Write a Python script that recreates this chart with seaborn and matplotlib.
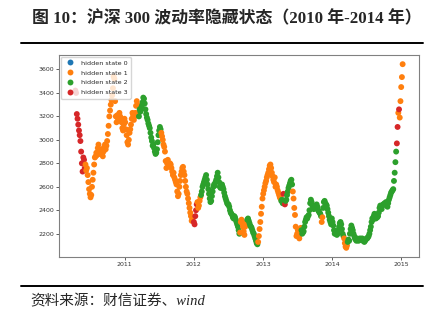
import matplotlib
matplotlib.use("Agg")
import matplotlib.pyplot as plt
import matplotlib.dates as mdates
from matplotlib.lines import Line2D
import seaborn as sns
import pandas as pd

# CSI 300 index level (about 8 readings per month, 2010-04-16 .. 2015-01-07)
values = [
    3420, 3400, 3220, 3180,                              # 2010-04 (second half)
    3130, 3080, 3040, 2990, 2900, 2800, 2730, 2850,      # 2010-05
    2830, 2760, 2790, 2740, 2760, 2700, 2640, 2580,      # 2010-06
    2540, 2510, 2530, 2600, 2660, 2720, 2790, 2850,      # 2010-07
    2860, 2890, 2870, 2930, 2960, 2900, 2880, 2910,      # 2010-08
    2920, 2880, 2860, 2900, 2940, 2960, 2920, 2950,      # 2010-09
    2990, 3050, 3120, 3200, 3250, 3300, 3340, 3380,      # 2010-10
    3440, 3540, 3520, 3330, 3200, 3150, 3210, 3180,      # 2010-11
    3180, 3230, 3200, 3170, 3150, 3100, 3080, 3130,      # 2010-12
    3180, 3150, 3090, 3040, 2980, 2960, 3000, 3060,      # 2011-01
    3090, 3130, 3180, 3230, 3210, 3170, 3200, 3230,      # 2011-02
    3290, 3330, 3300, 3230, 3200, 3260, 3240, 3270,      # 2011-03
    3290, 3320, 3360, 3350, 3310, 3260, 3220, 3190,      # 2011-04
    3170, 3140, 3120, 3100, 3060, 3020, 2990, 2950,      # 2011-05
    2960, 2930, 2900, 2880, 2890, 2920, 2980, 3040,      # 2011-06
    3080, 3110, 3090, 3060, 3030, 3000, 2960, 2940,      # 2011-07
    2900, 2820, 2760, 2800, 2830, 2790, 2780, 2800,      # 2011-08
    2790, 2760, 2730, 2700, 2720, 2680, 2660, 2640,      # 2011-09
    2620, 2560, 2520, 2540, 2600, 2650, 2700, 2730,      # 2011-10
    2760, 2770, 2730, 2700, 2650, 2600, 2560, 2540,      # 2011-11
    2500, 2460, 2420, 2380, 2350, 2310, 2330, 2340,      # 2011-12
    2300, 2280, 2350, 2400, 2450, 2470, 2420, 2440,      # 2012-01
    2480, 2510, 2530, 2560, 2600, 2620, 2640, 2660,      # 2012-02
    2680, 2700, 2660, 2620, 2580, 2540, 2500, 2470,      # 2012-03
    2480, 2520, 2560, 2600, 2620, 2610, 2640, 2660,      # 2012-04
    2690, 2720, 2680, 2640, 2600, 2590, 2610, 2620,      # 2012-05
    2600, 2580, 2550, 2520, 2500, 2480, 2460, 2450,      # 2012-06
    2450, 2430, 2400, 2380, 2370, 2360, 2340, 2330,      # 2012-07
    2350, 2340, 2320, 2300, 2280, 2260, 2230, 2200,      # 2012-08
    2210, 2300, 2320, 2290, 2260, 2220, 2190, 2260,      # 2012-09
    2280, 2300, 2320, 2330, 2310, 2290, 2270, 2260,      # 2012-10
    2250, 2230, 2210, 2200, 2180, 2160, 2140, 2120,      # 2012-11
    2110, 2130, 2180, 2240, 2300, 2370, 2430, 2500,      # 2012-12
    2540, 2570, 2600, 2630, 2650, 2680, 2700, 2720,      # 2013-01
    2750, 2780, 2790, 2760, 2720, 2690, 2660, 2640,      # 2013-02
    2680, 2600, 2620, 2600, 2570, 2550, 2530, 2510,      # 2013-03
    2500, 2480, 2490, 2460, 2540, 2470, 2450, 2480,      # 2013-04
    2490, 2530, 2560, 2590, 2610, 2630, 2650, 2660,      # 2013-05
    2620, 2560, 2500, 2420, 2360, 2260, 2180, 2200,      # 2013-06
    2230, 2180, 2160, 2200, 2250, 2230, 2200, 2210,      # 2013-07
    2220, 2260, 2300, 2320, 2340, 2330, 2350, 2360,      # 2013-08
    2400, 2460, 2490, 2470, 2440, 2420, 2410, 2420,      # 2013-09
    2420, 2440, 2450, 2430, 2400, 2390, 2380, 2370,      # 2013-10
    2350, 2300, 2340, 2420, 2470, 2480, 2460, 2450,      # 2013-11
    2440, 2410, 2380, 2350, 2320, 2300, 2280, 2330,      # 2013-12
    2300, 2270, 2230, 2200, 2220, 2200, 2190, 2200,      # 2014-01
    2230, 2260, 2290, 2300, 2280, 2240, 2200, 2180,      # 2014-02
    2160, 2120, 2090, 2080, 2100, 2130, 2150, 2140,      # 2014-03
    2200, 2240, 2270, 2250, 2230, 2200, 2180, 2160,      # 2014-04
    2150, 2140, 2160, 2150, 2140, 2150, 2160, 2150,      # 2014-05
    2150, 2160, 2140, 2150, 2130, 2140, 2150, 2160,      # 2014-06
    2160, 2170, 2180, 2200, 2230, 2260, 2300, 2330,      # 2014-07
    2320, 2350, 2370, 2340, 2330, 2360, 2340, 2350,      # 2014-08
    2380, 2420, 2440, 2430, 2410, 2440, 2450, 2450,      # 2014-09
    2460, 2450, 2470, 2440, 2430, 2460, 2490, 2510,      # 2014-10
    2530, 2550, 2560, 2570, 2580, 2650, 2720, 2810,      # 2014-11
    2900, 2970, 3110, 3230, 3260, 3190, 3330, 3450,      # 2014-12
    3535, 3645,                                          # 2015-01
]

# hidden state of each reading (same order as values, one string per month)
state_rows = [
    "3333",
    "33333333", "33111111", "11111111", "11111111", "11111111", "11111111", "11111111", "11111111",
    "11111111", "11111111", "11112222", "22222222", "22222222", "22222222", "22211111", "11111111",
    "11111111", "11111111", "11111111", "11111111",
    "33333111", "11222222", "22222222", "22222222", "22222222", "22222222", "22222222", "22222222",
    "11111111", "11222222", "22222222", "21111111",
    "11111111", "11111111", "11111111", "12223232", "22222222", "21111111", "11111222", "22222222",
    "22222222", "22222222", "21122222", "22222222",
    "22222222", "22222222", "11111222", "22222222", "22222222", "22222222", "22222222", "22222222",
    "22222222", "22222222", "22222222", "23313111",
    "11",
]
states = [int(c) for row in state_rows for c in row]

state_labels = ["hidden state 0", "hidden state 1", "hidden state 2", "hidden state 3"]
state_colors = ["#1f77b4", "#ff7f0e", "#2ca02c", "#d62728"]
y_ticks = [2200, 2400, 2600, 2800, 3000, 3200, 3400, 3600]

title_text = "图 10：沪深 300 波动率隐藏状态（2010 年-2014 年）"
source_text = "资料来源：财信证券、wind"

dates = pd.date_range("2010-04-16", "2015-01-07", periods=len(values))
df = pd.DataFrame({
    "date": dates,
    "value": values,
    "state": pd.Categorical([state_labels[s] for s in states], categories=state_labels),
})

sns.set_style("ticks")
plt.rcParams["font.family"] = ["DejaVu Sans"]

W, H = 439, 328
fig = plt.figure(figsize=(W / 100, H / 100), dpi=100)
ax = fig.add_axes([59 / W, 1 - 257 / H, 360 / W, 202 / H])

sns.scatterplot(data=df, x="date", y="value", hue="state", hue_order=state_labels,
                palette=state_colors, s=18, linewidth=0, ax=ax)

ax.set_xlabel("")
ax.set_ylabel("")
ax.set_yticks(y_ticks)
ax.xaxis.set_major_locator(mdates.YearLocator())
ax.xaxis.set_major_formatter(mdates.DateFormatter("%Y"))
ax.tick_params(labelsize=4.5, length=2.2, width=0.6, pad=1.5, colors="#444444", labelcolor="#333333")
for sp in ax.spines.values():
    sp.set_visible(True)
    sp.set_color("#808080")
    sp.set_linewidth(0.8)

sns.move_legend(ax, "upper left", title=None, fontsize=4.6, frameon=True,
                borderaxespad=0.3, handletextpad=0.6, labelspacing=0.7,
                borderpad=0.5, markerscale=1.0)

fig.text(32 / W, 1 - 19 / H, title_text, ha="left", va="center", fontsize=12.2,
         fontweight="bold", family=["Liberation Serif", "Noto Sans CJK SC"])
fig.add_artist(Line2D([21 / W, 423 / W], [1 - 43 / H] * 2, color="black", lw=1.4))
fig.add_artist(Line2D([21 / W, 423 / W], [1 - 286 / H] * 2, color="black", lw=1.4))
fig.text(30 / W, 1 - 301 / H, source_text, ha="left", va="center", fontsize=10.5,
         style="italic", family=["Liberation Serif", "Noto Sans CJK SC"])

fig.savefig("out.png", dpi=100)
